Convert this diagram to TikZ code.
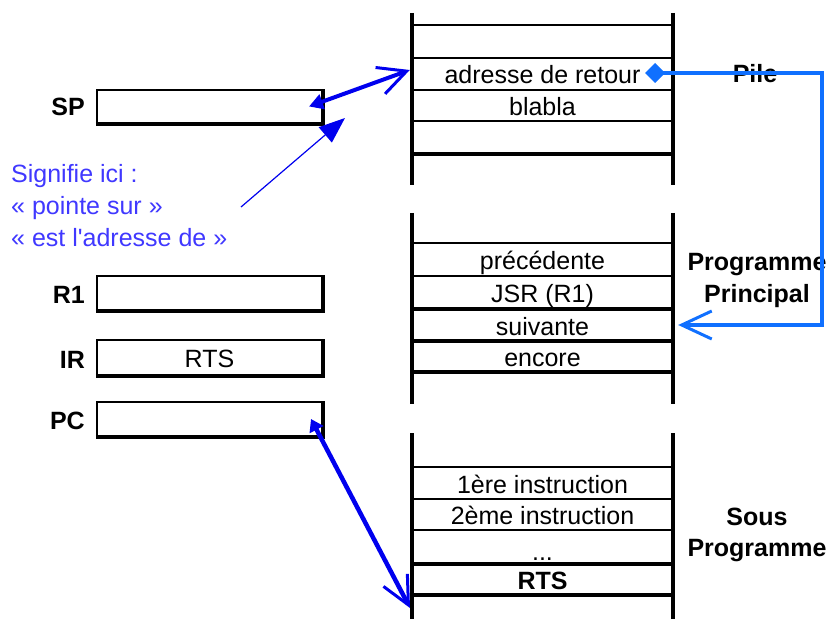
\documentclass[tikz,border=0pt]{standalone}
\usepackage{fontspec}
\setmainfont{Liberation Sans}
\usetikzlibrary{arrows.meta}

\definecolor{ptrblue}{RGB}{0,0,238}
\definecolor{linkblue}{RGB}{16,112,255}
\definecolor{notecol}{RGB}{64,56,255}

\newcommand\cellfont{\fontsize{25bp}{30bp}\selectfont}
\newcommand\labfont{\fontsize{25bp}{29bp}\selectfont\bfseries}

\begin{document}
\begin{tikzpicture}[x=1bp,y=-1bp,
  stackwall/.style={line width=3.5bp},
  thinrule/.style={line width=1.2bp},
  midrule/.style={line width=2.3bp},
  thickrule/.style={line width=3.2bp},
  cell/.style={minimum width=261bp, inner sep=0pt, text height=20bp, text depth=0bp, font=\cellfont},
  reg/.style={draw, line width=2bp, minimum width=225bp, inner sep=0pt, text height=20bp, text depth=0bp, font=\cellfont},
  regshade/.style={line width=3.5bp},
  lab/.style={anchor=base east, inner sep=0pt, font=\labfont},
  side/.style={anchor=base, inner sep=0pt, font=\labfont},
  note/.style={anchor=base west, inner sep=0pt, text=notecol, font=\cellfont},
  ptr/.style={draw=ptrblue, line width=4bp},
  link/.style={draw=linkblue, line width=4.5bp}
]
\useasboundingbox (0,0) rectangle (829,619);

% ---- stack (Pile) ----
\draw[stackwall] (412,13) -- (412,185);
\draw[stackwall] (673,13) -- (673,185);
\draw[midrule]   (412,25)  -- (673,25);
\draw[thinrule]  (412,58)  -- (673,58);
\draw[thinrule]  (412,90)  -- (673,90);
\draw[midrule]   (412,121) -- (673,121);
\draw[thickrule] (412,154) -- (673,154);
\node[cell, minimum height=32bp] (ret) at (542.5,74) {adresse de retour};
\node[cell, minimum height=31bp] (bla) at (542.5,105.5) {blabla};

% ---- main program ----
\draw[stackwall] (412,213) -- (412,404);
\draw[stackwall] (673,213) -- (673,404);
\draw[thinrule]  (412,243) -- (673,243);
\draw[thinrule]  (412,276) -- (673,276);
\draw[thickrule] (412,309) -- (673,309);
\draw[thickrule] (412,341) -- (673,341);
\draw[thickrule] (412,372) -- (673,372);
\node[cell, minimum height=33bp] (prec) at (542.5,259.5) {précédente};
\node[cell, minimum height=33bp] (jsr)  at (542.5,292.5) {JSR (R1)};
\node[cell, minimum height=32bp] (suiv) at (542.5,325)   {suivante};
\node[cell, minimum height=31bp] (enc)  at (542.5,356.5) {encore};

% ---- subroutine ----
\draw[stackwall] (412,433) -- (412,619);
\draw[stackwall] (673,433) -- (673,619);
\draw[thinrule]  (412,467) -- (673,467);
\draw[thinrule]  (412,499) -- (673,499);
\draw[thinrule]  (412,530) -- (673,530);
\draw[thickrule] (412,564) -- (673,564);
\draw[thickrule] (412,595) -- (673,595);
\node[cell, minimum height=32bp] (first)  at (542.5,483)   {1ère instruction};
\node[cell, minimum height=31bp] (second) at (542.5,514.5) {2ème instruction};
\node[cell] (dots) at (542.5,550) {...};
\node[cell, minimum height=31bp, font=\labfont] (rts) at (542.5,579.5) {RTS};
\coordinate (subret) at (410,608);

% ---- side labels ----
\node[side] (pile)  at (755,83)  {Pile};
\node[side] (pp1)   at (757,270) {Programme};
\node[side] (pp2)   at (757,302) {Principal};
\node[side] (sp1)   at (757,525) {Sous};
\node[side] (sp2)   at (757,556) {Programme};

% ---- registers ----
\node[reg, minimum height=33bp] (sp) at (209.5,106.5) {};
\node[reg, minimum height=34bp] (r1) at (209.5,293)   {};
\node[reg, minimum height=35bp] (ir) at (209.5,357.5) {RTS};
\node[reg, minimum height=34bp] (pc) at (209.5,419)   {};
\foreach \r in {sp,r1,ir,pc}
  \draw[regshade] (\r.south west) -- (\r.south east) -- (\r.north east);
\node[lab] (lsp) at (85,116) {SP};
\node[lab] (lr1) at (85,303) {R1};
\node[lab] (lir) at (85,368) {IR};
\node[lab] (lpc) at (85,429) {PC};

% ---- note ----
\node[note] (n1) at (11,183) {Signifie ici :};
\node[note] (n2) at (11,215) {« pointe sur »};
\node[note] (n3) at (11,247) {« est l\textquotesingle adresse de »};
\coordinate (ntail) at (241,207);
\coordinate (nhead) at (345,118);

% ---- pointers ----
\draw[ptr, {Triangle[length=14bp,width=15bp]}-{Straight Barb[length=28bp,width=28bp,line width=3bp]}]
  ([xshift=-14bp]sp.east) -- ([xshift=-2bp,yshift=4bp]ret.west);
\draw[ptr, line width=1.2bp, -{Triangle[length=26bp,width=20bp]}] (ntail) -- (nhead);
\draw[ptr, line width=4.5bp, {Triangle[length=12bp,width=15bp]}-{Straight Barb[length=28bp,width=27bp,line width=3bp]}]
  ([xshift=-12bp]pc.east) -- (subret);

\coordinate (bend) at (822,73);
\draw[link, {Diamond[length=20bp,width=20bp]}-{Straight Barb[length=30bp,width=28bp,line width=3bp]}]
  ([xshift=-28bp,yshift=1bp]ret.east) -- (bend) |- ([xshift=5bp]suiv.east);
\end{tikzpicture}
\end{document}
